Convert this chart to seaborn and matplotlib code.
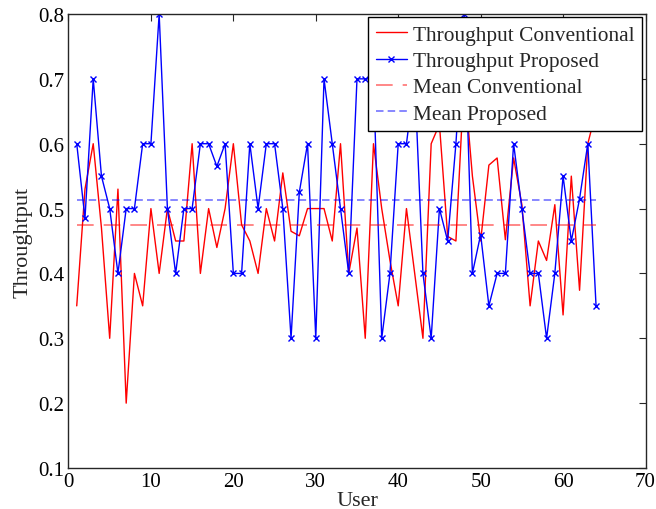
import numpy as np
import pandas as pd
import matplotlib
matplotlib.use("Agg")
import matplotlib.pyplot as plt
import seaborn as sns

# --- Data ---
users = list(range(1, 65))

throughput_conventional = [
    0.35, 0.53, 0.60, 0.47, 0.30, 0.53, 0.20, 0.40, 0.35, 0.50,
    0.40, 0.50, 0.45, 0.45, 0.60, 0.40, 0.50, 0.44, 0.50, 0.60,
    0.475, 0.45, 0.40, 0.50, 0.45, 0.555, 0.465, 0.458, 0.50, 0.50,
    0.50, 0.45, 0.60, 0.40, 0.47, 0.30, 0.60, 0.50, 0.42, 0.35,
    0.50, 0.40, 0.30, 0.60, 0.63, 0.457, 0.45, 0.70, 0.55, 0.45,
    0.567, 0.578, 0.452, 0.578, 0.506, 0.35, 0.45, 0.42, 0.506, 0.336,
    0.55, 0.374, 0.60, 0.65,
]

throughput_proposed = [
    0.60, 0.485, 0.70, 0.55, 0.50, 0.40, 0.50, 0.50, 0.60, 0.60,
    0.80, 0.50, 0.40, 0.50, 0.50, 0.60, 0.60, 0.565, 0.60, 0.40,
    0.40, 0.60, 0.50, 0.60, 0.60, 0.50, 0.30, 0.525, 0.60, 0.30,
    0.70, 0.60, 0.50, 0.40, 0.70, 0.70, 0.70, 0.30, 0.40, 0.60,
    0.60, 0.70, 0.40, 0.30, 0.50, 0.45, 0.60, 0.80, 0.40, 0.46,
    0.35, 0.40, 0.40, 0.60, 0.50, 0.40, 0.40, 0.30, 0.40, 0.55,
    0.45, 0.515, 0.60, 0.35,
]

mean_conventional = 0.475
mean_proposed = 0.513

x_ticks = [0, 10, 20, 30, 40, 50, 60, 70]
y_ticks = [0.1, 0.2, 0.3, 0.4, 0.5, 0.6, 0.7, 0.8]

CONV_DASH = [10, 6]
PROP_DASH = [4.5, 2.5]


def set_style():
    sns.set_style("white")
    plt.rcParams['font.family'] = ['Liberation Serif', 'DejaVu Serif']
    plt.rcParams['xtick.direction'] = 'in'
    plt.rcParams['ytick.direction'] = 'in'
    plt.rcParams['xtick.top'] = True
    plt.rcParams['ytick.right'] = True
    plt.rcParams['xtick.major.size'] = 5
    plt.rcParams['ytick.major.size'] = 5
    plt.rcParams['axes.linewidth'] = 1.0
    plt.rcParams['axes.edgecolor'] = '#262626'


def main():
    set_style()
    df = pd.DataFrame({
        'User': users,
        'Conventional': throughput_conventional,
        'Proposed': throughput_proposed,
        'MeanConv': [mean_conventional] * len(users),
        'MeanProp': [mean_proposed] * len(users),
    })

    fig = plt.figure(figsize=(6.56, 5.10), dpi=100)
    ax = fig.add_axes([0.1044, 0.0804, 0.8796, 0.8902])

    sns.lineplot(data=df, x='User', y='Conventional', ax=ax, color='#ff0000',
                 lw=1.0, label='Throughput Conventional')
    sns.lineplot(data=df, x='User', y='Proposed', ax=ax, color='#0000ff',
                 lw=1.0, marker='x', markersize=5, markeredgewidth=1.0,
                 markeredgecolor='#0000ff', label='Throughput Proposed')
    sns.lineplot(data=df, x='User', y='MeanConv', ax=ax, color='#ff0000',
                 lw=1.2, alpha=0.55, label='Mean Conventional')
    sns.lineplot(data=df, x='User', y='MeanProp', ax=ax, color='#0000ff',
                 lw=1.2, alpha=0.55, label='Mean Proposed')
    ax.lines[2].set_dashes(CONV_DASH)
    ax.lines[3].set_dashes(PROP_DASH)

    ax.set_xlim(0, 70)
    ax.set_ylim(0.1, 0.8)
    ax.set_xticks(x_ticks)
    ax.set_yticks(y_ticks)
    ax.set_xticklabels([str(t) for t in x_ticks])
    ax.set_yticklabels([f"{t:.1f}" for t in y_ticks])
    ax.tick_params(labelsize=15, pad=3, colors='#262626', labelcolor='black')
    ax.set_xlabel('User', fontsize=16, labelpad=0)
    ax.set_ylabel('Throughtput', fontsize=16, labelpad=4)

    leg = ax.legend(loc='upper right', fontsize=15.4, frameon=True, fancybox=False,
                    framealpha=1, edgecolor='black', borderaxespad=0.15,
                    handlelength=1.45, handletextpad=0.3, labelspacing=0.3,
                    borderpad=0.35, numpoints=1)
    leg.get_frame().set_linewidth(1.0)
    for h in leg.get_lines()[2:]:
        h.set_alpha(0.55)
    leg.get_lines()[2].set_dashes(CONV_DASH)
    leg.get_lines()[3].set_dashes(PROP_DASH)

    fig.savefig('out.png', dpi=100)
    plt.close(fig)


if __name__ == "__main__":
    main()
